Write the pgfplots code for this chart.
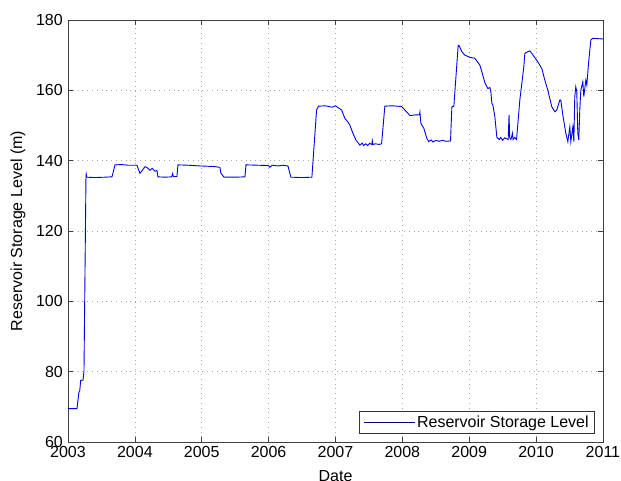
\documentclass[border=0pt]{standalone}
\usepackage{fontspec}
\setmainfont{Liberation Sans}
\usepackage{pgfplots}
\pgfplotsset{compat=1.18}
\begin{document}
\fontsize{16}{19}\selectfont
\begin{tikzpicture}[x=1pt,y=1pt]
\useasboundingbox (-68pt,-39pt) rectangle (553pt,442pt);
\begin{axis}[at={(0pt,0pt)},anchor=south west,
  scale only axis, width=535pt, height=422pt,
  xmin=2003, xmax=2011, ymin=60, ymax=180,
  xtick={2003,2004,...,2011}, ytick={60,80,...,180},
  /pgf/number format/.cd, 1000 sep={}, assume math mode=true, /pgfplots/.cd,
  tick label style={font=\fontsize{16}{19}\selectfont, black},
  xticklabel style={inner sep=0pt, yshift=-4pt},
  yticklabel style={inner sep=0pt, xshift=-5pt},
  axis line style={black!75, line width=0.8pt},
  tick style={black!75, line width=0.6pt},
  major tick length=5pt,
  grid=major,
  major grid style={black!35, line width=0.6pt, dash pattern=on 0.8pt off 4pt},
  xlabel={Date}, ylabel={Reservoir Storage Level (m)},
  every axis x label/.style={at={(axis description cs:0.5,0)}, anchor=north, inner sep=0pt, yshift=-28pt, font=\fontsize{16}{19}\selectfont},
  every axis y label/.style={at={(axis description cs:0,0.5)}, xshift=-50pt, anchor=center, rotate=90, font=\fontsize{16}{19}\selectfont},
  legend style={at={(1,0)}, anchor=south east, xshift=-8pt, yshift=8pt, draw=black!80, line width=0.6pt, font=\fontsize{16}{19}\selectfont, inner xsep=4pt, inner ysep=2pt, legend cell align=left},
  legend image code/.code={\draw[#1, line width=0.6pt, blue!50!black] (0pt,0pt) -- (51pt,0pt);},
]
\addplot[blue!90!black, line width=0.9pt] coordinates {
(2003.000,69.5) (2003.135,69.5) (2003.150,72) (2003.164,74.2) (2003.175,74.5)
(2003.190,77.5) (2003.224,77.6) (2003.239,80) (2003.269,135.8) (2003.272,136.2)
(2003.280,135.3) (2003.40,135.2) (2003.55,135.3) (2003.658,135.4) (2003.703,138.8)
(2003.80,138.9) (2003.90,138.7) (2004.031,138.7) (2004.076,136.4) (2004.11,137.2)
(2004.151,138.3) (2004.20,137.8) (2004.226,137.3) (2004.26,137.8) (2004.300,137.0)
(2004.330,137.2) (2004.345,135.4) (2004.45,135.3) (2004.55,135.4) (2004.565,136.3)
(2004.575,135.5) (2004.629,135.5) (2004.644,138.8) (2004.80,138.7) (2004.973,138.5)
(2005.10,138.4) (2005.20,138.3) (2005.272,138.1) (2005.285,136.5) (2005.332,135.3)
(2005.50,135.3) (2005.646,135.4) (2005.661,138.8) (2005.85,138.7) (2006.00,138.6)
(2006.019,138.1) (2006.05,138.7) (2006.15,138.5) (2006.20,138.7) (2006.289,138.5)
(2006.333,135.3) (2006.50,135.2) (2006.647,135.3) (2006.717,154.4) (2006.747,155.5)
(2006.85,155.6) (2006.95,155.2) (2007.0,155.6) (2007.091,154.4) (2007.141,152.0)
(2007.185,151.0) (2007.215,150.1) (2007.260,147.8) (2007.305,145.9) (2007.365,144.4)
(2007.40,145.0) (2007.42,144.3) (2007.45,144.8) (2007.48,144.3) (2007.51,144.9)
(2007.544,144.6) (2007.550,145.7) (2007.56,144.6) (2007.60,144.8) (2007.65,144.6) (2007.689,144.8)
(2007.738,155.5) (2007.85,155.6) (2007.988,155.4) (2008.082,153.5) (2008.112,152.8)
(2008.187,153.0) (2008.255,153.0) (2008.262,153.8) (2008.277,150.6) (2008.321,149.2)
(2008.366,146.3) (2008.396,145.4) (2008.43,145.9) (2008.46,145.3) (2008.50,145.8)
(2008.55,145.5) (2008.60,145.8) (2008.65,145.5) (2008.720,145.6) (2008.740,155.3)
(2008.770,155.5) (2008.834,172.7) (2008.845,172.8) (2008.890,171.0) (2008.934,170.0)
(2009.009,169.4) (2009.084,169.1) (2009.158,167.2) (2009.188,165.3) (2009.233,162.2)
(2009.278,160.5) (2009.308,160.8) (2009.323,159.6) (2009.338,156.3) (2009.353,155.8)
(2009.383,152.5) (2009.413,146.6) (2009.45,146.0) (2009.47,146.6) (2009.50,145.8)
(2009.53,146.5) (2009.582,146.0) (2009.595,153.0) (2009.605,146.5) (2009.622,146.0)
(2009.647,147.8) (2009.655,146.0) (2009.68,146.6) (2009.707,146.0) (2009.756,157.2)
(2009.816,166.7) (2009.831,170.5) (2009.876,171.0) (2009.906,171.2) (2009.936,170.5)
(2010.025,168.1) (2010.085,166.2) (2010.130,162.9) (2010.175,160.0) (2010.235,155.3)
(2010.280,153.9) (2010.309,154.4) (2010.354,157.2) (2010.369,157.2) (2010.399,153.0)
(2010.444,147.8) (2010.474,145.4) (2010.504,149.6) (2010.519,145.4) (2010.549,149.6)
(2010.564,145.4) (2010.578,158.2) (2010.593,161.0) (2010.608,159.6) (2010.623,147.8)
(2010.638,145.9) (2010.653,154.4) (2010.668,160.0) (2010.698,162.4) (2010.713,158.2)
(2010.743,162.9) (2010.758,161.5) (2010.788,168.6) (2010.818,174.3) (2010.848,174.8)
(2011.0,174.6)
};
\addlegendentry{Reservoir Storage Level}
\end{axis}
\end{tikzpicture}
\end{document}
